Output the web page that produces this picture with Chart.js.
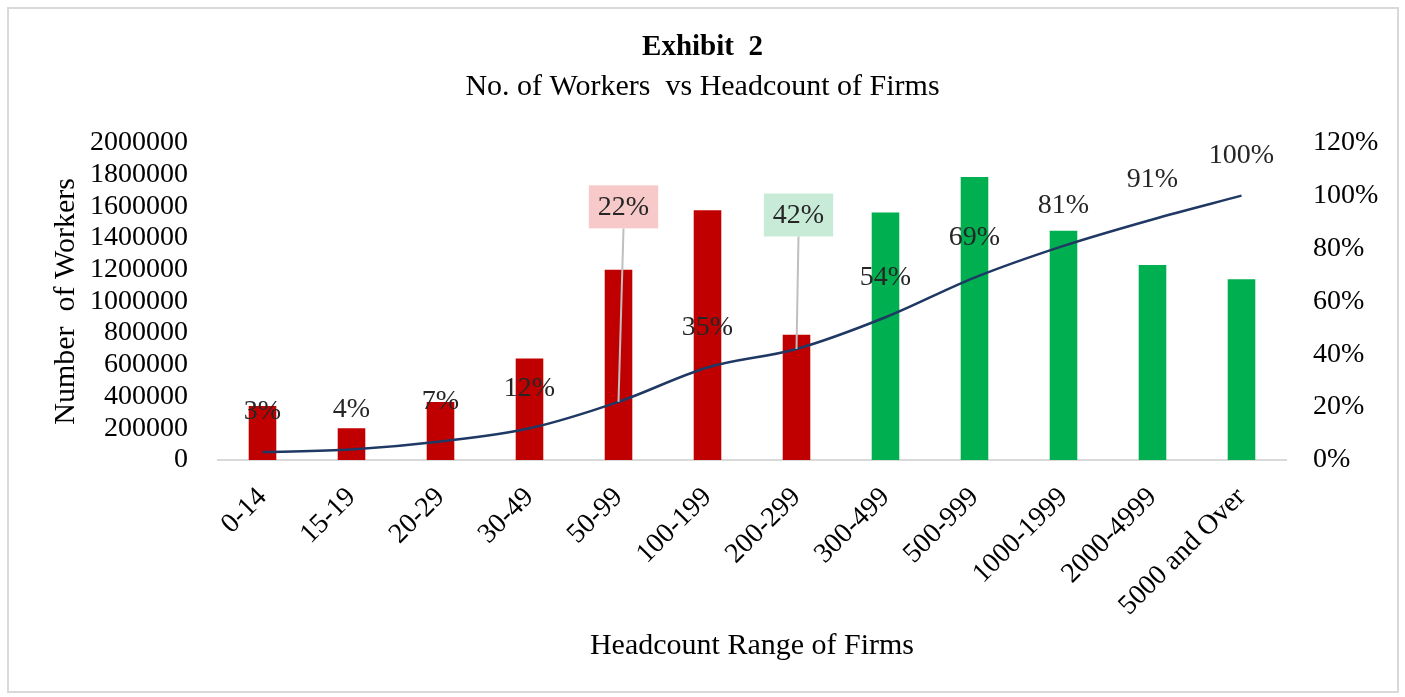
<!DOCTYPE html>
<html>
<head>
  <title>Exhibit 2</title>
  <script src="https://cdn.jsdelivr.net/npm/chart.js"></script>
  <style>
    body { margin: 0; background: #fff; }
    #frame { position: absolute; left: 7px; top: 7px; width: 1388px; height: 682px; border: 2px solid #d9d9d9; }
    canvas { position: absolute; left: 0; top: 0; }
  </style>
</head>
<body>
  <div id="frame"></div>
  <canvas id="chart" width="1405" height="697"></canvas>
  <script>
    const ranges = ['0-14', '15-19', '20-29', '30-49', '50-99', '100-199', '200-299',
                    '300-499', '500-999', '1000-1999', '2000-4999', '5000 and Over'];
    const workers = [340000, 200000, 365000, 640000, 1200000, 1575000, 790000,
                     1560000, 1785000, 1445000, 1230000, 1140000];
    const cumulativePct = [3, 4, 7, 12, 22, 35, 42, 54, 69, 81, 91, 100];
    const barColors = ranges.map((r, i) => i < 7 ? '#C00000' : '#00B050');

    const FONT = '"Liberation Serif", "Times New Roman", serif';

    // data labels for the line, with two boxed callouts
    const lineLabels = {
      id: 'lineLabels',
      afterDatasetsDraw(chart, args, opts) {
        const c = chart.ctx;
        const meta = chart.getDatasetMeta(1);
        c.save();
        c.font = '28px ' + FONT;
        c.textAlign = 'center';
        c.textBaseline = 'middle';
        meta.data.forEach((pt, i) => {
          const txt = cumulativePct[i] + '%';
          const co = opts.callouts[i];
          if (co) {
            const bx = pt.x + co.dx, by = pt.y + co.dy;
            const w = c.measureText(txt).width + 18, h = 43;
            c.strokeStyle = '#bfbfbf';
            c.lineWidth = 2;
            c.beginPath();
            c.moveTo(bx, by + h / 2);
            c.lineTo(pt.x, pt.y);
            c.stroke();
            c.fillStyle = co.fill;
            c.fillRect(bx - w / 2, by - h / 2, w, h);
            c.fillStyle = '#262626';
            c.fillText(txt, bx, by + 1);
          } else {
            c.fillStyle = '#262626';
            c.fillText(txt, pt.x, pt.y - 40);
          }
        });
        c.restore();
      }
    };

    new Chart(document.getElementById('chart'), {
      data: {
        labels: ranges,
        datasets: [{
          type: 'bar',
          label: 'Number of Workers',
          data: workers,
          backgroundColor: barColors,
          categoryPercentage: 1,
          barPercentage: 0.31,
          yAxisID: 'y',
          order: 2
        }, {
          type: 'line',
          label: 'Cumulative %',
          data: cumulativePct,
          borderColor: '#1F3864',
          borderWidth: 2.5,
          pointRadius: 0,
          cubicInterpolationMode: 'monotone',
          yAxisID: 'y1',
          order: 1
        }]
      },
      options: {
        responsive: false,
        animation: false,
        layout: { padding: 0 },
        plugins: {
          legend: { display: false },
          tooltip: { enabled: false },
          title: {
            display: true,
            text: 'Exhibit  2',
            color: '#000',
            font: { family: FONT, size: 29, weight: 'bold' },
            padding: { top: 30, bottom: 4 }
          },
          subtitle: {
            display: true,
            text: 'No. of Workers  vs Headcount of Firms',
            color: '#000',
            font: { family: FONT, size: 30 },
            padding: { top: 0, bottom: 38 }
          },
          lineLabels: {
            callouts: {
              4: { dx: 5, dy: -195, fill: '#F8C9C9' },
              6: { dx: 2, dy: -134, fill: '#C8EBD8' }
            }
          }
        },
        scales: {
          x: {
            afterFit: s => { s.height = 237; },
            grid: { display: false },
            border: { display: true, color: '#d9d9d9', width: 2 },
            ticks: {
              color: '#000',
              font: { family: FONT, size: 28 },
              minRotation: 45,
              maxRotation: 45,
              padding: 13
            },
            title: {
              display: true,
              text: 'Headcount Range of Firms',
              color: '#000',
              font: { family: FONT, size: 30 },
              padding: { top: 0, bottom: 33 }
            }
          },
          y: {
            position: 'left',
            afterFit: s => { s.width = 218; },
            min: 0,
            max: 2000000,
            grid: { display: false },
            border: { display: false },
            ticks: {
              stepSize: 200000,
              autoSkip: false,
              color: '#000',
              font: { family: FONT, size: 28 },
              padding: 22,
              callback: v => String(v)
            },
            title: {
              display: true,
              text: 'Number  of Workers',
              color: '#000',
              font: { family: FONT, size: 30 },
              padding: { top: 48, bottom: 0 }
            }
          },
          y1: {
            position: 'right',
            afterFit: s => { s.width = 119; },
            min: 0,
            max: 120,
            grid: { display: false },
            border: { display: false },
            ticks: {
              stepSize: 20,
              autoSkip: false,
              color: '#000',
              font: { family: FONT, size: 28 },
              padding: 19,
              callback: v => v + '%'
            }
          }
        }
      },
      plugins: [lineLabels]
    });
  </script>
</body>
</html>
